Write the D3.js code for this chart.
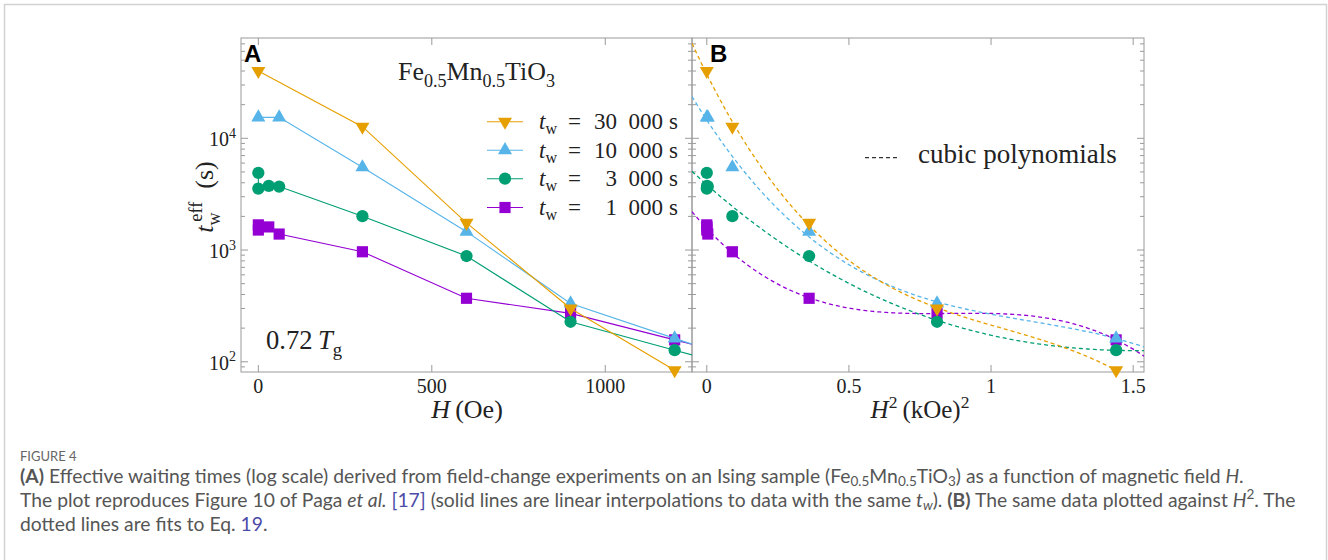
<!DOCTYPE html>
<html><head><meta charset="utf-8">
<script src="https://cdn.jsdelivr.net/npm/d3@7"></script>
<style>body{margin:0;background:#fff} svg{display:block}</style>
</head><body>
<svg id="chart" width="1328" height="560"></svg>
<script>
// ---------------- data ----------------
const waitLabels = ["30 000", "10 000", "3 000", "1 000"];
const seriesColors = ["#E69F00", "#56B4E9", "#009E73", "#9400D3"];
const H_30000 = [0, 300, 600, 900, 1200];
const t_30000 = [40000, 12700, 1750, 300, 84];
const H_10000 = [0, 60, 300, 600, 900, 1200];
const t_10000 = [15400, 15400, 5500, 1460, 333, 162];
const H_3000 = [0, 0, 30, 60, 300, 600, 900, 1200];
const t_3000 = [4900, 3550, 3750, 3700, 2010, 884, 228, 127];
const H_1000 = [0, 0, 30, 60, 300, 600, 900, 1200];
const t_1000 = [1680, 1510, 1610, 1390, 965, 370, 271, 157];
const xTicksA = [0, 500, 1000];
const xTicksB = [0, 0.5, 1, 1.5];
const yMajorTicks = [100, 1000, 10000];

// ---------------- setup ----------------
const svg = d3.select("#chart");
const SERIF = "'Liberation Serif', 'Times New Roman', serif";
const SANS = "'Liberation Sans', Arial, sans-serif";
const CAP = "Lato, 'Open Sans', sans-serif";

svg.append("rect").attr("x", 4.5).attr("y", 4.5).attr("width", 1322).attr("height", 600)
  .attr("fill", "none").attr("stroke", "#d2d2d2").attr("stroke-width", 1.5);

const yTop = 38, yBot = 372;
const y = d3.scaleLog().domain([81, 79000]).range([yBot, yTop]);
const xA = d3.scaleLinear().domain([-50, 1250]).range([241, 692]);
const xB = d3.scaleLinear().domain([-0.052, 1.538]).range([692, 1144]);

const series = [
  {lab: waitLabels[0], color: seriesColors[0], sym: "down", H: H_30000, t: t_30000},
  {lab: waitLabels[1], color: seriesColors[1], sym: "up", H: H_10000, t: t_10000},
  {lab: waitLabels[2], color: seriesColors[2], sym: "circle", H: H_3000, t: t_3000},
  {lab: waitLabels[3], color: seriesColors[3], sym: "square", H: H_1000, t: t_1000},
];

function rich(sel, segs, size, subK) {
  const kSub = subK === undefined ? 0.28 : subK;
  let shift = 0;
  segs.forEach(s => {
    const target = s.sub ? size * kSub : s.sup ? -size * 0.42 : 0;
    const ts = sel.append("tspan").attr("dy", target - shift).text(s.t);
    shift = target;
    if (s.sub || s.sup) ts.attr("font-size", size * (s.scale || 0.7));
    if (s.i) ts.attr("font-style", "italic");
    if (s.b) ts.attr("font-weight", "bold");
    if (s.fill) ts.attr("fill", s.fill);
    if (s.dx) ts.attr("dx", s.dx * size / 25);
  });
  return sel;
}
function richFit(parent, attrs, segs, size0, targetW, subK) {
  const mk = sz => {
    const t = parent.append("text");
    Object.entries(attrs).forEach(([k, v]) => t.attr(k, v));
    t.attr("font-size", sz);
    return rich(t, segs, sz, subK);
  };
  const probe = mk(size0);
  const w = probe.node().getComputedTextLength();
  probe.remove();
  return mk(size0 * targetW / w);
}

function markerPath(sym) {
  if (sym === "down") return d3.symbol(d3.symbolTriangle, 85)();
  if (sym === "up") return d3.symbol(d3.symbolTriangle, 85)();
  if (sym === "circle") return d3.symbol(d3.symbolCircle, 118)();
  return d3.symbol(d3.symbolSquare, 125)();
}
function drawMarker(g, sym, color, cx, cy) {
  g.append("path").attr("d", markerPath(sym)).attr("fill", color)
    .attr("transform", `translate(${cx},${cy})` + (sym === "down" ? " rotate(180)" : ""));
}

const defs = svg.append("defs");
defs.append("clipPath").attr("id", "clipA").append("rect")
  .attr("x", 241).attr("y", yTop).attr("width", 451).attr("height", yBot - yTop);
defs.append("clipPath").attr("id", "clipB").append("rect")
  .attr("x", 692).attr("y", yTop).attr("width", 452).attr("height", yBot - yTop);

// ---------------- axes frames ----------------
const axisColor = "#9a9a9a";
const frames = svg.append("g");
[[241, 692], [692, 1144]].forEach(([l, r]) => {
  frames.append("rect").attr("x", l).attr("y", yTop).attr("width", r - l).attr("height", yBot - yTop)
    .attr("fill", "none").attr("stroke", axisColor).attr("stroke-width", 1);
});

const lo = 81, hi = 79000;
const yMinor = [];
for (let e = 1; e <= 4; e++) for (let m = 2; m <= 9; m++) { const v = m * Math.pow(10, e); if (v >= lo && v <= hi) yMinor.push(v); }
function yTicksAt(xs, dir) {
  yMajorTicks.forEach(v => frames.append("line").attr("x1", xs).attr("x2", xs + dir * 7)
    .attr("y1", y(v)).attr("y2", y(v)).attr("stroke", axisColor));
  yMinor.forEach(v => frames.append("line").attr("x1", xs).attr("x2", xs + dir * 4)
    .attr("y1", y(v)).attr("y2", y(v)).attr("stroke", axisColor));
}
yTicksAt(241, 1); yTicksAt(692, -1); yTicksAt(692, 1); yTicksAt(1144, -1);

function xTicks(scale, ticks) {
  ticks.forEach(v => {
    frames.append("line").attr("x1", scale(v)).attr("x2", scale(v)).attr("y1", yBot).attr("y2", yBot - 7).attr("stroke", axisColor);
    frames.append("line").attr("x1", scale(v)).attr("x2", scale(v)).attr("y1", yTop).attr("y2", yTop + 7).attr("stroke", axisColor);
  });
}
xTicks(xA, xTicksA); xTicks(xB, xTicksB);

// tick labels
const lab = svg.append("g").attr("font-family", SERIF).attr("fill", "#222");
xTicksA.forEach(v => lab.append("text").attr("x", xA(v)).attr("y", 393).attr("text-anchor", "middle")
  .attr("font-size", 20).text(d3.format("d")(v)));
xTicksB.forEach(v => lab.append("text").attr("x", xB(v)).attr("y", 393).attr("text-anchor", "middle")
  .attr("font-size", 20).text(String(v)));
yMajorTicks.forEach(v => {
  const t = lab.append("text").attr("x", 236).attr("y", y(v) + 8).attr("text-anchor", "end").attr("font-size", 20);
  rich(t, [{t: "10"}, {t: String(Math.round(Math.log10(v))), sup: true}], 20);
});

// axis labels
const ha = lab.append("text").attr("x", 467).attr("y", 418).attr("text-anchor", "middle").attr("font-size", 26);
rich(ha, [{t: "H", i: true}, {t: "\u2009(Oe)"}], 26);
const hb = lab.append("text").attr("x", 920).attr("y", 418).attr("text-anchor", "middle").attr("font-size", 25);
rich(hb, [{t: "H", i: true}, {t: "2", sup: true}, {t: "\u2009(kOe)"}, {t: "2", sup: true}], 25);
const yl = lab.append("text").attr("transform", "translate(213,197) rotate(-90)").attr("text-anchor", "middle").attr("font-size", 26);
rich(yl, [{t: "t", i: true}, {t: "w", sub: true}, {t: "eff", sup: true, dx: -9}, {t: "\u2002(s)"}], 26);

// ---------------- panel A ----------------
const gA = svg.append("g");
const lineA = d3.line().x(d => xA(d[0])).y(d => y(d[1]));
const drawOrder = [3, 2, 1, 0];
drawOrder.forEach(i => {
  const s = series[i];
  const pts = s.H.map((h, k) => [h, s.t[k]]);
  const n = pts.length, a = pts[n - 2], b = pts[n - 1];
  const xe = xA.domain()[1];
  const slope = (Math.log10(b[1]) - Math.log10(a[1])) / (b[0] - a[0]);
  const ext = [xe, Math.pow(10, Math.log10(b[1]) + slope * (xe - b[0]))];
  gA.append("path").attr("clip-path", "url(#clipA)").attr("d", lineA(pts.concat([ext])))
    .attr("fill", "none").attr("stroke", s.color).attr("stroke-width", 1.1);
  pts.forEach(p => drawMarker(gA, s.sym, s.color, xA(p[0]), y(p[1])));
});

// ---------------- panel B ----------------
function cubicFit(xs, ys) {
  const N = 4, A = [], B = [];
  for (let r = 0; r < N; r++) { A.push(new Array(N).fill(0)); B.push(0); }
  xs.forEach((x, k) => {
    for (let r = 0; r < N; r++) {
      for (let c = 0; c < N; c++) A[r][c] += Math.pow(x, r + c);
      B[r] += ys[k] * Math.pow(x, r);
    }
  });
  for (let c = 0; c < N; c++) {
    let p = c; for (let r = c + 1; r < N; r++) if (Math.abs(A[r][c]) > Math.abs(A[p][c])) p = r;
    [A[c], A[p]] = [A[p], A[c]]; [B[c], B[p]] = [B[p], B[c]];
    for (let r = 0; r < N; r++) if (r !== c) {
      const f = A[r][c] / A[c][c];
      for (let k = c; k < N; k++) A[r][k] -= f * A[c][k];
      B[r] -= f * B[c];
    }
  }
  return B.map((v, r) => v / A[r][r]);
}
const gB = svg.append("g");
const lineB = d3.line().x(d => xB(d[0])).y(d => y(d[1]));
drawOrder.forEach(i => {
  const s = series[i];
  const h2 = s.H.map(h => (h / 1000) * (h / 1000));
  const coef = cubicFit(h2, s.t.map(v => Math.log10(v)));
  const [d0, d1] = xB.domain();
  const curve = d3.range(0, 201).map(k => {
    const x = d0 + (d1 - d0) * k / 200;
    const ly = coef[0] + coef[1] * x + coef[2] * x * x + coef[3] * x * x * x;
    return [x, Math.pow(10, ly)];
  });
  gB.append("path").attr("clip-path", "url(#clipB)").attr("d", lineB(curve))
    .attr("fill", "none").attr("stroke", s.color).attr("stroke-width", 1.3).attr("stroke-dasharray", "4,3");
});
drawOrder.forEach(i => {
  const s = series[i];
  s.H.forEach((h, k) => drawMarker(gB, s.sym, s.color, xB((h / 1000) * (h / 1000)), y(s.t[k])));
});

// ---------------- annotations ----------------
const ann = svg.append("g").attr("font-family", SERIF).attr("fill", "#222");
ann.append("text").attr("x", 244).attr("y", 62).attr("font-family", SANS).attr("font-weight", "bold")
  .attr("font-size", 24).attr("fill", "#000").text("A");
ann.append("text").attr("x", 710).attr("y", 62).attr("font-family", SANS).attr("font-weight", "bold")
  .attr("font-size", 24).attr("fill", "#000").text("B");
richFit(ann, {x: 398, y: 80},
  [{t: "Fe"}, {t: "0.5", sub: true}, {t: "Mn"}, {t: "0.5", sub: true}, {t: "TiO"}, {t: "3", sub: true}], 24, 157);
richFit(ann, {x: 266, y: 349}, [{t: "0.72\u2009"}, {t: "T", i: true}, {t: "g", sub: true}], 26, 76);

// legend A
const legRows = [121.7, 150.2, 178.7, 207.5];
series.forEach((s, i) => {
  const ry = legRows[i];
  ann.append("line").attr("x1", 487).attr("x2", 523).attr("y1", ry).attr("y2", ry)
    .attr("stroke", s.color).attr("stroke-width", 1.1);
  drawMarker(ann, s.sym, s.color, 505, ry);
  const by = ry + 7.5;
  rich(ann.append("text").attr("x", 539).attr("y", by).attr("font-size", 23),
    [{t: "t", i: true}, {t: "w", sub: true}], 23, 0.22);
  ann.append("text").attr("x", 568).attr("y", by).attr("font-size", 23).text("=");
  ann.append("text").attr("x", 663).attr("y", by).attr("text-anchor", "end").attr("font-size", 23)
    .text(s.lab.replace(" ", "\u2007"));
  ann.append("text").attr("x", 669).attr("y", by).attr("font-size", 23).text("s");
});

// legend B
ann.append("line").attr("x1", 865).attr("x2", 899).attr("y1", 157.7).attr("y2", 157.7)
  .attr("stroke", "#333").attr("stroke-width", 1.2).attr("stroke-dasharray", "4,3");
richFit(ann, {x: 918, y: 163}, [{t: "cubic polynomials"}], 26, 199);

// ---------------- caption ----------------
const cap = svg.append("g").attr("font-family", CAP).attr("fill", "#555");
cap.append("text").attr("x", 20).attr("y", 461).attr("font-size", 13).attr("fill", "#666").text("FIGURE 4");
const link = "#4b4ba8";
const capLines = [
  [{t: "(A)", b: true}, {t: " Effective waiting times (log scale) derived from field-change experiments on an Ising sample (Fe"},
   {t: "0.5", sub: true}, {t: "Mn"}, {t: "0.5", sub: true}, {t: "TiO"}, {t: "3", sub: true},
   {t: ") as a function of magnetic field "}, {t: "H", i: true}, {t: "."}],
  [{t: "The plot reproduces Figure 10 of Paga "}, {t: "et al.", i: true}, {t: " "}, {t: "[17]", fill: link},
   {t: " (solid lines are linear interpolations to data with the same "}, {t: "t", i: true}, {t: "w", sub: true, i: true},
   {t: "). "}, {t: "(B)", b: true}, {t: " The same data plotted against "}, {t: "H", i: true}, {t: "2", sup: true}, {t: ". The"}],
  [{t: "dotted lines are fits to Eq. "}, {t: "19", fill: link}, {t: "."}]
];
const capY = [483, 507, 531];
const probe = rich(cap.append("text").attr("x", 20).attr("y", capY[1]).attr("font-size", 15), capLines[1], 15, 0.18);
const w2 = probe.node().getComputedTextLength();
probe.remove();
const fs = 15 * 1276 / w2;
capLines.forEach((segs, i) => rich(cap.append("text").attr("x", 20).attr("y", capY[i]).attr("font-size", fs), segs, fs, 0.18));
</script></body></html>
